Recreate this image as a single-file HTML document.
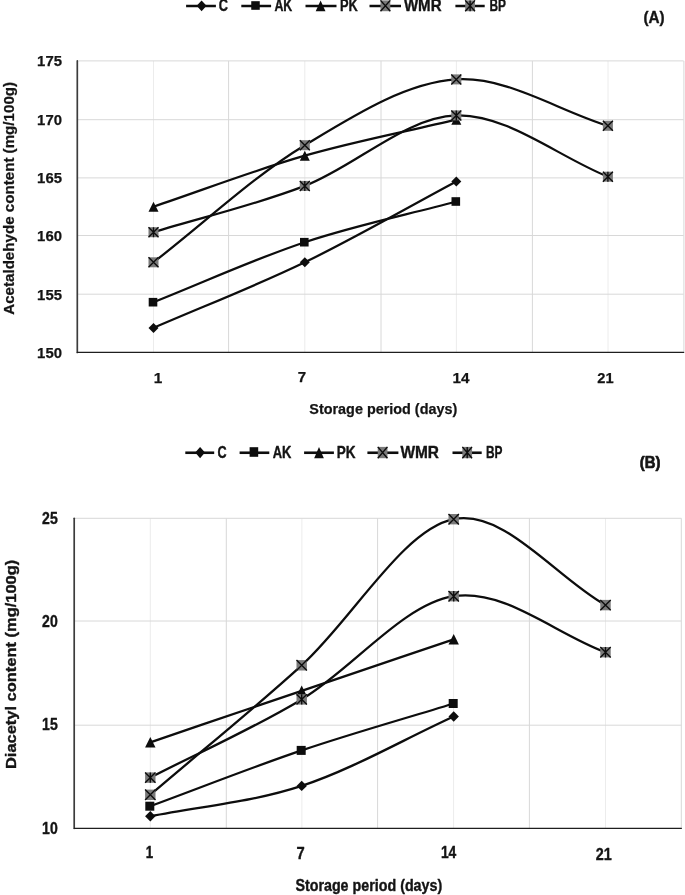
<!DOCTYPE html>
<html lang="en">
<head>
<meta charset="utf-8">
<title>Acetaldehyde and diacetyl content during storage</title>
<style>
html,body{margin:0;padding:0;background:#fff;}
body{width:685px;height:895px;overflow:hidden;}
svg{display:block;}
text{font-family:"Liberation Sans",sans-serif;font-weight:bold;fill:#141414;}
</style>
</head>
<body>
<svg width="685" height="895" viewBox="0 0 685 895">
<rect x="0" y="0" width="685" height="895" fill="#ffffff"/>
<g class="chartA">
<line x1="153.50" y1="60.90" x2="153.50" y2="352.40" stroke="#ececec" stroke-width="1"/>
<line x1="228.60" y1="60.90" x2="228.60" y2="352.40" stroke="#d8d8d8" stroke-width="1"/>
<line x1="304.80" y1="60.90" x2="304.80" y2="352.40" stroke="#ececec" stroke-width="1"/>
<line x1="381.00" y1="60.90" x2="381.00" y2="352.40" stroke="#d8d8d8" stroke-width="1"/>
<line x1="456.40" y1="60.90" x2="456.40" y2="352.40" stroke="#ececec" stroke-width="1"/>
<line x1="532.40" y1="60.90" x2="532.40" y2="352.40" stroke="#d8d8d8" stroke-width="1"/>
<line x1="608.00" y1="60.90" x2="608.00" y2="352.40" stroke="#ececec" stroke-width="1"/>
<line x1="683.90" y1="60.90" x2="683.90" y2="352.40" stroke="#d8d8d8" stroke-width="1"/>
<line x1="77.30" y1="60.90" x2="683.60" y2="60.90" stroke="#d8d8d8" stroke-width="1"/>
<line x1="77.30" y1="119.70" x2="683.60" y2="119.70" stroke="#d8d8d8" stroke-width="1"/>
<line x1="77.30" y1="177.90" x2="683.60" y2="177.90" stroke="#d8d8d8" stroke-width="1"/>
<line x1="77.30" y1="235.50" x2="683.60" y2="235.50" stroke="#d8d8d8" stroke-width="1"/>
<line x1="77.30" y1="294.20" x2="683.60" y2="294.20" stroke="#d8d8d8" stroke-width="1"/>
<line x1="77.30" y1="60.90" x2="77.30" y2="352.40" stroke="#3c3c3c" stroke-width="1.7" stroke-linecap="round"/>
<line x1="77.30" y1="352.40" x2="683.60" y2="352.40" stroke="#1e1e1e" stroke-width="1.35" stroke-linecap="round"/>
<path d="M153.50,327.90 C203.93,306.03 254.33,286.70 304.80,262.30 C355.27,237.90 405.80,208.43 456.30,181.50" stroke="#0d0d0d" stroke-width="2.25" fill="none" stroke-linecap="round"/>
<path d="M153.50,322.90 L158.50,327.90 L153.50,332.90 L148.50,327.90Z" fill="#0d0d0d"/>
<path d="M304.80,257.30 L309.80,262.30 L304.80,267.30 L299.80,262.30Z" fill="#0d0d0d"/>
<path d="M456.30,176.50 L461.30,181.50 L456.30,186.50 L451.30,181.50Z" fill="#0d0d0d"/>
<path d="M153.50,302.20 C203.93,282.20 254.33,258.98 304.80,242.20 C355.27,225.42 405.80,215.07 456.30,201.50" stroke="#0d0d0d" stroke-width="2.25" fill="none" stroke-linecap="round"/>
<rect x="148.70" y="297.90" width="8.60" height="8.60" fill="#0d0d0d"/>
<rect x="300.00" y="237.90" width="8.60" height="8.60" fill="#0d0d0d"/>
<rect x="451.50" y="197.20" width="8.60" height="8.60" fill="#0d0d0d"/>
<path d="M153.50,206.70 C203.93,189.70 254.33,170.20 304.80,155.70 C355.27,141.20 405.80,131.70 456.30,119.70" stroke="#0d0d0d" stroke-width="2.25" fill="none" stroke-linecap="round"/>
<path d="M153.50,201.70 L158.50,211.70 L148.50,211.70Z" fill="#0d0d0d"/>
<path d="M304.80,150.70 L309.80,160.70 L299.80,160.70Z" fill="#0d0d0d"/>
<path d="M456.30,114.70 L461.30,124.70 L451.30,124.70Z" fill="#0d0d0d"/>
<path d="M153.50,262.30 C203.93,223.27 254.33,175.68 304.80,145.20 C355.27,114.72 405.78,82.63 456.30,79.40 C506.82,76.17 557.37,110.33 607.90,125.80" stroke="#0d0d0d" stroke-width="2.25" fill="none" stroke-linecap="round"/>
<rect x="148.50" y="257.30" width="10.00" height="10.00" fill="#7a7a7a"/>
<path d="M148.50,257.30 L158.50,267.30 M158.50,257.30 L148.50,267.30" stroke="#0d0d0d" stroke-width="1.35" fill="none"/>
<rect x="299.80" y="140.20" width="10.00" height="10.00" fill="#7a7a7a"/>
<path d="M299.80,140.20 L309.80,150.20 M309.80,140.20 L299.80,150.20" stroke="#0d0d0d" stroke-width="1.35" fill="none"/>
<rect x="451.30" y="74.40" width="10.00" height="10.00" fill="#7a7a7a"/>
<path d="M451.30,74.40 L461.30,84.40 M461.30,74.40 L451.30,84.40" stroke="#0d0d0d" stroke-width="1.35" fill="none"/>
<rect x="602.90" y="120.80" width="10.00" height="10.00" fill="#7a7a7a"/>
<path d="M602.90,120.80 L612.90,130.80 M612.90,120.80 L602.90,130.80" stroke="#0d0d0d" stroke-width="1.35" fill="none"/>
<path d="M153.50,232.20 C203.93,216.77 254.33,205.37 304.80,185.90 C355.27,166.43 405.78,116.93 456.30,115.40 C506.82,113.87 557.37,156.27 607.90,176.70" stroke="#0d0d0d" stroke-width="2.25" fill="none" stroke-linecap="round"/>
<rect x="148.50" y="227.20" width="10.00" height="10.00" fill="#7a7a7a"/>
<path d="M148.50,227.20 L158.50,237.20 M158.50,227.20 L148.50,237.20 M153.50,227.20 L153.50,237.20" stroke="#0d0d0d" stroke-width="1.35" fill="none"/>
<rect x="299.80" y="180.90" width="10.00" height="10.00" fill="#7a7a7a"/>
<path d="M299.80,180.90 L309.80,190.90 M309.80,180.90 L299.80,190.90 M304.80,180.90 L304.80,190.90" stroke="#0d0d0d" stroke-width="1.35" fill="none"/>
<rect x="451.30" y="110.40" width="10.00" height="10.00" fill="#7a7a7a"/>
<path d="M451.30,110.40 L461.30,120.40 M461.30,110.40 L451.30,120.40 M456.30,110.40 L456.30,120.40" stroke="#0d0d0d" stroke-width="1.35" fill="none"/>
<rect x="602.90" y="171.70" width="10.00" height="10.00" fill="#7a7a7a"/>
<path d="M602.90,171.70 L612.90,181.70 M612.90,171.70 L602.90,181.70 M607.90,171.70 L607.90,181.70" stroke="#0d0d0d" stroke-width="1.35" fill="none"/>
</g>
<g class="chartB">
<line x1="150.30" y1="518.30" x2="150.30" y2="828.30" stroke="#ececec" stroke-width="1"/>
<line x1="226.30" y1="518.30" x2="226.30" y2="828.30" stroke="#d8d8d8" stroke-width="1"/>
<line x1="301.90" y1="518.30" x2="301.90" y2="828.30" stroke="#ececec" stroke-width="1"/>
<line x1="377.60" y1="518.30" x2="377.60" y2="828.30" stroke="#d8d8d8" stroke-width="1"/>
<line x1="453.60" y1="518.30" x2="453.60" y2="828.30" stroke="#ececec" stroke-width="1"/>
<line x1="529.40" y1="518.30" x2="529.40" y2="828.30" stroke="#d8d8d8" stroke-width="1"/>
<line x1="605.50" y1="518.30" x2="605.50" y2="828.30" stroke="#ececec" stroke-width="1"/>
<line x1="681.30" y1="518.30" x2="681.30" y2="828.30" stroke="#d8d8d8" stroke-width="1"/>
<line x1="74.20" y1="518.30" x2="681.40" y2="518.30" stroke="#d8d8d8" stroke-width="1"/>
<line x1="74.20" y1="621.00" x2="681.40" y2="621.00" stroke="#d8d8d8" stroke-width="1"/>
<line x1="74.20" y1="725.20" x2="681.40" y2="725.20" stroke="#d8d8d8" stroke-width="1"/>
<line x1="74.20" y1="518.30" x2="74.20" y2="828.30" stroke="#3c3c3c" stroke-width="1.7" stroke-linecap="round"/>
<line x1="74.20" y1="828.30" x2="681.40" y2="828.30" stroke="#1e1e1e" stroke-width="1.35" stroke-linecap="round"/>
<path d="M150.30,816.30 C200.77,806.17 251.13,802.53 301.70,785.90 C352.27,769.27 403.03,739.63 453.70,716.50" stroke="#0d0d0d" stroke-width="2.3" fill="none" stroke-linecap="round"/>
<path d="M150.30,811.10 L155.50,816.30 L150.30,821.50 L145.10,816.30Z" fill="#0d0d0d"/>
<path d="M301.70,780.70 L306.90,785.90 L301.70,791.10 L296.50,785.90Z" fill="#0d0d0d"/>
<path d="M453.70,711.30 L458.90,716.50 L453.70,721.70 L448.50,716.50Z" fill="#0d0d0d"/>
<path d="M150.30,806.20 C200.77,787.60 251.13,767.52 301.70,750.40 C352.27,733.28 403.03,719.13 453.70,703.50" stroke="#0d0d0d" stroke-width="2.3" fill="none" stroke-linecap="round"/>
<rect x="145.30" y="801.70" width="9.00" height="9.00" fill="#0d0d0d"/>
<rect x="296.70" y="745.90" width="9.00" height="9.00" fill="#0d0d0d"/>
<rect x="448.70" y="699.00" width="9.00" height="9.00" fill="#0d0d0d"/>
<path d="M150.30,742.30 C200.77,725.13 251.13,707.97 301.70,690.80 C352.27,673.63 403.03,656.47 453.70,639.30" stroke="#0d0d0d" stroke-width="2.3" fill="none" stroke-linecap="round"/>
<path d="M150.30,737.10 L155.50,747.50 L145.10,747.50Z" fill="#0d0d0d"/>
<path d="M301.70,685.60 L306.90,696.00 L296.50,696.00Z" fill="#0d0d0d"/>
<path d="M453.70,634.10 L458.90,644.50 L448.50,644.50Z" fill="#0d0d0d"/>
<path d="M150.30,794.80 C200.77,751.63 251.13,711.23 301.70,665.30 C352.27,619.37 403.07,529.23 453.70,519.20 C504.33,509.17 554.90,576.47 605.50,605.10" stroke="#0d0d0d" stroke-width="2.3" fill="none" stroke-linecap="round"/>
<rect x="145.10" y="789.60" width="10.40" height="10.40" fill="#7a7a7a"/>
<path d="M145.10,789.60 L155.50,800.00 M155.50,789.60 L145.10,800.00" stroke="#0d0d0d" stroke-width="1.35" fill="none"/>
<rect x="296.50" y="660.10" width="10.40" height="10.40" fill="#7a7a7a"/>
<path d="M296.50,660.10 L306.90,670.50 M306.90,660.10 L296.50,670.50" stroke="#0d0d0d" stroke-width="1.35" fill="none"/>
<rect x="448.50" y="514.00" width="10.40" height="10.40" fill="#7a7a7a"/>
<path d="M448.50,514.00 L458.90,524.40 M458.90,514.00 L448.50,524.40" stroke="#0d0d0d" stroke-width="1.35" fill="none"/>
<rect x="600.30" y="599.90" width="10.40" height="10.40" fill="#7a7a7a"/>
<path d="M600.30,599.90 L610.70,610.30 M610.70,599.90 L600.30,610.30" stroke="#0d0d0d" stroke-width="1.35" fill="none"/>
<path d="M150.30,777.60 C200.77,751.53 251.13,729.63 301.70,699.40 C352.27,669.17 403.07,604.07 453.70,596.20 C504.33,588.33 554.90,633.53 605.50,652.20" stroke="#0d0d0d" stroke-width="2.3" fill="none" stroke-linecap="round"/>
<rect x="145.10" y="772.40" width="10.40" height="10.40" fill="#7a7a7a"/>
<path d="M145.10,772.40 L155.50,782.80 M155.50,772.40 L145.10,782.80 M150.30,772.40 L150.30,782.80" stroke="#0d0d0d" stroke-width="1.35" fill="none"/>
<rect x="296.50" y="694.20" width="10.40" height="10.40" fill="#7a7a7a"/>
<path d="M296.50,694.20 L306.90,704.60 M306.90,694.20 L296.50,704.60 M301.70,694.20 L301.70,704.60" stroke="#0d0d0d" stroke-width="1.35" fill="none"/>
<rect x="448.50" y="591.00" width="10.40" height="10.40" fill="#7a7a7a"/>
<path d="M448.50,591.00 L458.90,601.40 M458.90,591.00 L448.50,601.40 M453.70,591.00 L453.70,601.40" stroke="#0d0d0d" stroke-width="1.35" fill="none"/>
<rect x="600.30" y="647.00" width="10.40" height="10.40" fill="#7a7a7a"/>
<path d="M600.30,647.00 L610.70,657.40 M610.70,647.00 L600.30,657.40 M605.50,647.00 L605.50,657.40" stroke="#0d0d0d" stroke-width="1.35" fill="none"/>
</g>
<g class="labels" style="opacity:0.999">
<text x="37.12" y="66.33" font-size="15.41" textLength="24.85" lengthAdjust="spacingAndGlyphs" stroke="#141414" stroke-width="0.25" stroke-linejoin="round">175</text>
<text x="37.12" y="124.62" font-size="15.41" textLength="24.85" lengthAdjust="spacingAndGlyphs" stroke="#141414" stroke-width="0.25" stroke-linejoin="round">170</text>
<text x="37.12" y="183.02" font-size="15.41" textLength="24.85" lengthAdjust="spacingAndGlyphs" stroke="#141414" stroke-width="0.25" stroke-linejoin="round">165</text>
<text x="37.12" y="241.12" font-size="15.41" textLength="24.85" lengthAdjust="spacingAndGlyphs" stroke="#141414" stroke-width="0.25" stroke-linejoin="round">160</text>
<text x="37.12" y="300.12" font-size="15.41" textLength="24.85" lengthAdjust="spacingAndGlyphs" stroke="#141414" stroke-width="0.25" stroke-linejoin="round">155</text>
<text x="37.12" y="357.52" font-size="15.41" textLength="24.85" lengthAdjust="spacingAndGlyphs" stroke="#141414" stroke-width="0.25" stroke-linejoin="round">150</text>
<text x="153.72" y="382.98" font-size="14.46" textLength="8.55" lengthAdjust="spacingAndGlyphs" stroke="#141414" stroke-width="0.25" stroke-linejoin="round">1</text>
<text x="297.73" y="381.57" font-size="14.75" textLength="8.35" lengthAdjust="spacingAndGlyphs" stroke="#141414" stroke-width="0.25" stroke-linejoin="round">7</text>
<text x="452.52" y="382.98" font-size="15.04" textLength="16.95" lengthAdjust="spacingAndGlyphs" stroke="#141414" stroke-width="0.25" stroke-linejoin="round">14</text>
<text x="597.33" y="382.98" font-size="15.04" textLength="16.35" lengthAdjust="spacingAndGlyphs" stroke="#141414" stroke-width="0.25" stroke-linejoin="round">21</text>
<text x="309.32" y="413.98" font-size="14.75" textLength="147.95" lengthAdjust="spacingAndGlyphs" stroke="#141414" stroke-width="0.25" stroke-linejoin="round">Storage period (days)</text>
<text x="643.50" y="22.90" font-size="17.01" textLength="21.20" lengthAdjust="spacingAndGlyphs" stroke="#141414" stroke-width="0.4" stroke-linejoin="round">(A)</text>
<text transform="translate(14.07,314.77) rotate(-90)" x="0" y="0" font-size="15.19" textLength="232.85" lengthAdjust="spacingAndGlyphs" stroke="#141414" stroke-width="0.25" stroke-linejoin="round">Acetaldehyde content (mg/100g)</text>
<text x="42.09" y="523.71" font-size="16.02" textLength="15.62" lengthAdjust="spacingAndGlyphs" stroke="#141414" stroke-width="0.38" stroke-linejoin="round">25</text>
<text x="42.09" y="626.91" font-size="16.02" textLength="15.62" lengthAdjust="spacingAndGlyphs" stroke="#141414" stroke-width="0.38" stroke-linejoin="round">20</text>
<text x="42.09" y="729.91" font-size="16.02" textLength="15.62" lengthAdjust="spacingAndGlyphs" stroke="#141414" stroke-width="0.38" stroke-linejoin="round">15</text>
<text x="42.09" y="834.11" font-size="16.02" textLength="15.62" lengthAdjust="spacingAndGlyphs" stroke="#141414" stroke-width="0.38" stroke-linejoin="round">10</text>
<text x="145.79" y="858.01" font-size="16.31" textLength="7.42" lengthAdjust="spacingAndGlyphs" stroke="#141414" stroke-width="0.38" stroke-linejoin="round">1</text>
<text x="296.59" y="858.71" font-size="16.31" textLength="8.22" lengthAdjust="spacingAndGlyphs" stroke="#141414" stroke-width="0.38" stroke-linejoin="round">7</text>
<text x="440.89" y="858.01" font-size="16.31" textLength="15.42" lengthAdjust="spacingAndGlyphs" stroke="#141414" stroke-width="0.38" stroke-linejoin="round">14</text>
<text x="595.69" y="859.61" font-size="16.31" textLength="16.02" lengthAdjust="spacingAndGlyphs" stroke="#141414" stroke-width="0.38" stroke-linejoin="round">21</text>
<text x="295.39" y="891.01" font-size="16.02" textLength="146.82" lengthAdjust="spacingAndGlyphs" stroke="#141414" stroke-width="0.38" stroke-linejoin="round">Storage period (days)</text>
<text x="639.85" y="467.65" font-size="16.86" textLength="20.70" lengthAdjust="spacingAndGlyphs" stroke="#141414" stroke-width="0.7" stroke-linejoin="round">(B)</text>
<text transform="translate(16.11,769.01) rotate(-90)" x="0" y="0" font-size="14.85" textLength="209.22" lengthAdjust="spacingAndGlyphs" stroke="#141414" stroke-width="0.38" stroke-linejoin="round">Diacetyl content (mg/100g)</text>
<line x1="186.10" y1="6.00" x2="215.90" y2="6.00" stroke="#0d0d0d" stroke-width="2.5"/>
<path d="M201.60,0.40 L206.50,5.80 L201.60,11.20 L196.70,5.80Z" fill="#0d0d0d"/>
<text x="218.69" y="10.51" font-size="16.02" textLength="9.22" lengthAdjust="spacingAndGlyphs" stroke="#141414" stroke-width="0.38" stroke-linejoin="round">C</text>
<line x1="241.30" y1="6.00" x2="271.10" y2="6.00" stroke="#0d0d0d" stroke-width="2.5"/>
<rect x="251.25" y="1.20" width="8.50" height="8.60" fill="#0d0d0d"/>
<text x="274.39" y="10.51" font-size="16.02" textLength="17.92" lengthAdjust="spacingAndGlyphs" stroke="#141414" stroke-width="0.38" stroke-linejoin="round">AK</text>
<line x1="305.50" y1="6.00" x2="336.50" y2="6.00" stroke="#0d0d0d" stroke-width="2.5"/>
<path d="M320.60,0.40 L325.50,11.20 L315.70,11.20Z" fill="#0d0d0d"/>
<text x="339.99" y="10.51" font-size="16.02" textLength="17.82" lengthAdjust="spacingAndGlyphs" stroke="#141414" stroke-width="0.38" stroke-linejoin="round">PK</text>
<line x1="369.50" y1="6.00" x2="401.00" y2="6.00" stroke="#0d0d0d" stroke-width="2.5"/>
<rect x="380.50" y="0.40" width="9.80" height="10.80" fill="#7a7a7a"/>
<path d="M380.50,0.40 L390.30,11.20 M390.30,0.40 L380.50,11.20" stroke="#0d0d0d" stroke-width="1.4" fill="none"/>
<text x="403.89" y="10.51" font-size="16.02" textLength="37.72" lengthAdjust="spacingAndGlyphs" stroke="#141414" stroke-width="0.38" stroke-linejoin="round">WMR</text>
<line x1="455.40" y1="6.00" x2="484.70" y2="6.00" stroke="#0d0d0d" stroke-width="2.5"/>
<rect x="465.20" y="0.40" width="9.80" height="10.80" fill="#7a7a7a"/>
<path d="M465.20,0.40 L475.00,11.20 M475.00,0.40 L465.20,11.20 M470.10,0.40 L470.10,11.20" stroke="#0d0d0d" stroke-width="1.4" fill="none"/>
<text x="489.39" y="10.51" font-size="16.02" textLength="16.52" lengthAdjust="spacingAndGlyphs" stroke="#141414" stroke-width="0.38" stroke-linejoin="round">BP</text>
<line x1="185.30" y1="452.75" x2="214.20" y2="452.75" stroke="#0d0d0d" stroke-width="2.6"/>
<path d="M200.10,446.90 L204.95,452.55 L200.10,458.20 L195.25,452.55Z" fill="#0d0d0d"/>
<text x="217.49" y="457.91" font-size="16.31" textLength="9.12" lengthAdjust="spacingAndGlyphs" stroke="#141414" stroke-width="0.38" stroke-linejoin="round">C</text>
<line x1="239.60" y1="452.75" x2="269.30" y2="452.75" stroke="#0d0d0d" stroke-width="2.6"/>
<rect x="249.60" y="447.20" width="8.60" height="9.60" fill="#0d0d0d"/>
<text x="272.69" y="457.91" font-size="16.31" textLength="18.72" lengthAdjust="spacingAndGlyphs" stroke="#141414" stroke-width="0.38" stroke-linejoin="round">AK</text>
<line x1="304.10" y1="452.75" x2="333.90" y2="452.75" stroke="#0d0d0d" stroke-width="2.6"/>
<path d="M319.00,446.90 L323.85,458.20 L314.15,458.20Z" fill="#0d0d0d"/>
<text x="336.79" y="457.91" font-size="16.31" textLength="18.82" lengthAdjust="spacingAndGlyphs" stroke="#141414" stroke-width="0.38" stroke-linejoin="round">PK</text>
<line x1="367.40" y1="452.75" x2="398.40" y2="452.75" stroke="#0d0d0d" stroke-width="2.6"/>
<rect x="377.75" y="446.90" width="9.70" height="11.30" fill="#7a7a7a"/>
<path d="M377.75,446.90 L387.45,458.20 M387.45,446.90 L377.75,458.20" stroke="#0d0d0d" stroke-width="1.4" fill="none"/>
<text x="400.39" y="457.91" font-size="16.31" textLength="38.62" lengthAdjust="spacingAndGlyphs" stroke="#141414" stroke-width="0.38" stroke-linejoin="round">WMR</text>
<line x1="452.50" y1="452.75" x2="481.70" y2="452.75" stroke="#0d0d0d" stroke-width="2.6"/>
<rect x="462.35" y="446.90" width="9.70" height="11.30" fill="#7a7a7a"/>
<path d="M462.35,446.90 L472.05,458.20 M472.05,446.90 L462.35,458.20 M467.20,446.90 L467.20,458.20" stroke="#0d0d0d" stroke-width="1.4" fill="none"/>
<text x="485.89" y="457.91" font-size="16.31" textLength="16.52" lengthAdjust="spacingAndGlyphs" stroke="#141414" stroke-width="0.38" stroke-linejoin="round">BP</text>
</g>
</svg>
</body>
</html>
